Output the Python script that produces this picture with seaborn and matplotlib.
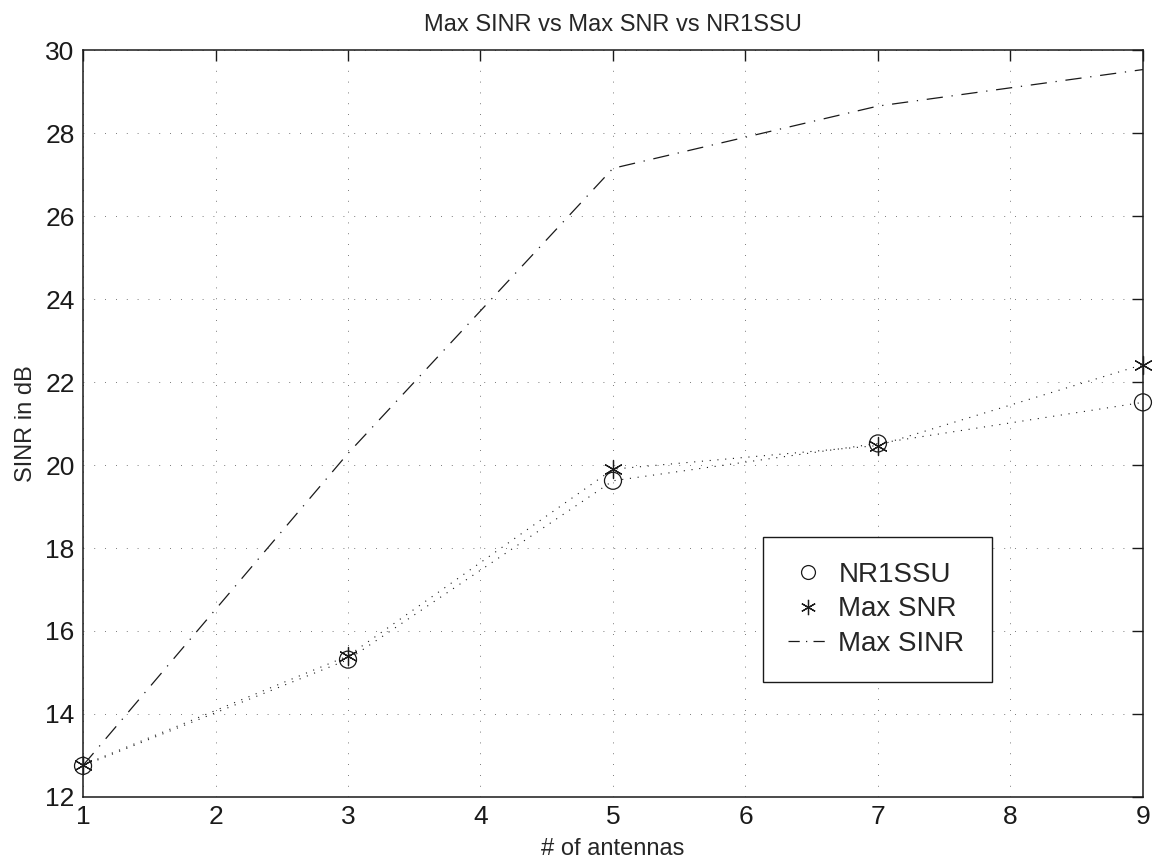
import matplotlib
matplotlib.use("Agg")
import matplotlib.pyplot as plt
import seaborn as sns
import pandas as pd
from matplotlib.lines import Line2D

sns.set_theme(style="white")
plt.rcParams["font.family"] = ["Liberation Sans", "DejaVu Sans"]

# datos
antenas = [1, 3, 5, 7, 9]
nr1ssu = [12.75, 15.31, 19.62, 20.52, 21.51]
max_snr = [12.77, 15.40, 19.90, 20.47, 22.42]
max_sinr = [12.76, 20.28, 27.15, 28.65, 29.53]

df = pd.DataFrame({"antenas": antenas, "NR1SSU": nr1ssu,
                   "Max SNR": max_snr, "Max SINR": max_sinr})

fig = plt.figure(figsize=(11.58, 8.63), dpi=100)
ax = fig.add_axes([0.0717, 0.0765, 0.9153, 0.8655])

# lineas punteadas sin leyenda
punteado = (0, (1, 6))
sns.lineplot(data=df, x="antenas", y="NR1SSU", ax=ax, color="k",
             linewidth=0.8, linestyle=punteado, legend=False)
sns.lineplot(data=df, x="antenas", y="Max SNR", ax=ax, color="k",
             linewidth=0.8, linestyle=punteado, legend=False)
sns.lineplot(data=df, x="antenas", y="Max SINR", ax=ax, color="k",
             linewidth=0.9, linestyle=(0, (13, 7, 1, 7)), legend=False)

# marcadores
sns.scatterplot(data=df, x="antenas", y="NR1SSU", ax=ax, marker="o",
                s=150, facecolor="none", edgecolor="k", linewidth=0.9,
                zorder=5, clip_on=False)
ax.scatter(df["antenas"], df["Max SNR"], marker=(6, 2, 0), s=170,
           color="k", linewidth=0.9, zorder=6, clip_on=False)

ax.set_xlim(1, 9)
ax.set_ylim(12, 30)
ax.set_xticks(range(1, 10))
ax.set_yticks(range(12, 31, 2))

ax.grid(True, color="0.3", linestyle=(0, (1, 12)), linewidth=0.6)
ax.tick_params(direction="in", length=8, width=1, top=True, right=True,
               labelsize=19, colors="k", pad=6)
for s in ax.spines.values():
    s.set_color("k")
    s.set_linewidth(1.1)

ax.set_title("Max SINR vs Max SNR vs NR1SSU", fontsize=17, pad=14)
ax.set_xlabel("# of antennas", fontsize=17, labelpad=6)
ax.set_ylabel("SINR in dB", fontsize=17, labelpad=6)

handles = [
    Line2D([], [], marker="o", linestyle="none", markerfacecolor="none",
           markeredgecolor="k", markersize=10, markeredgewidth=0.9),
    Line2D([], [], marker=(6, 2, 0), linestyle="none", color="k",
           markersize=11, markeredgewidth=0.9),
    Line2D([], [], color="k", linewidth=0.9, linestyle=(0, (9, 5, 1, 5))),
]
leg = ax.legend(handles, ["NR1SSU", "Max SNR", "Max SINR"],
                loc="upper left", bbox_to_anchor=(0.642, 0.348, 0.216, 0.0),
                mode="expand", fontsize=20, frameon=True, fancybox=False,
                edgecolor="k", framealpha=1, borderpad=0.9, borderaxespad=0,
                handlelength=1.4, labelspacing=0.3, handletextpad=0.4)
leg.get_frame().set_linewidth(1.0)

fig.savefig("out.png", dpi=100)
